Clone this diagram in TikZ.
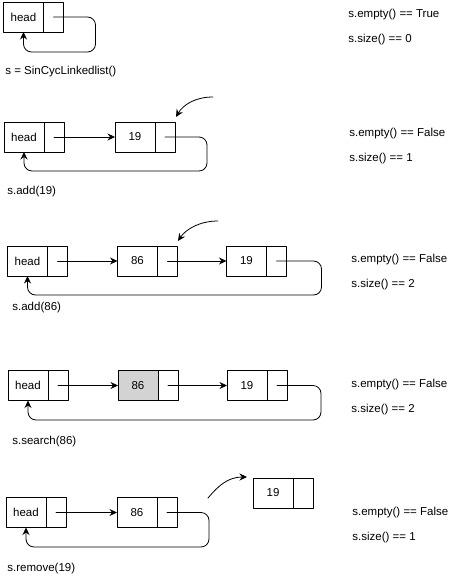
\documentclass[tikz,border=0pt]{standalone}
\usepackage{fontspec}
\setmainfont{Liberation Sans}
\usetikzlibrary{positioning,arrows.meta}
\definecolor{hit}{RGB}{211,211,211}
\begin{document}
\begin{tikzpicture}[x=1pt, y=-1pt, line cap=round, line join=round, font=\fontsize{11.5}{13}\selectfont, >={Stealth[length=7.5pt,width=7pt,inset=2.5pt]}, line width=0.8pt]
	\tikzset{cell/.style={draw, minimum width=40pt, minimum height=30pt, inner sep=0pt, outer sep=0pt},
		ptr/.style={draw, minimum width=20pt, minimum height=30pt, inner sep=0pt, outer sep=0pt, right=0pt of #1},
		link/.style={->, rounded corners=8pt},
		lbl/.style={anchor=west, inner sep=0pt}}
	\useasboundingbox (0,0) rectangle (453,579);
	% s = SinCycLinkedlist()
	\node[cell] (h1) at (23.5,17) {head};
	\node[ptr=h1] (h1p) {};
	\draw[link] (h1p.center) -- ++(42,0) -- ++(0,35) -| (h1.south);
	\node[lbl] (l1) at (5,72) {s = SinCycLinkedlist()};
	\node[lbl] (e1) at (348,15) {s.empty() == True};
	\node[lbl] (z1) at (348,40) {s.size() == 0};
	% s.add(19)
	\node[cell] (h2) at (24,137) {head};
	\node[ptr=h2] (h2p) {};
	\node[cell, right=51pt of h2p] (n2a) {19};
	\node[ptr=n2a] (n2ap) {};
	\draw[->] (h2p.center) -- (n2a);
	\draw[link] (n2ap.center) -- ++(42,0) -- ++(0,34) -| (h2.south);
	\coordinate (in2) at (213,97);
	\coordinate (at2) at (176,117);
	\draw[->] (in2) .. controls (195,97) and (183,105) .. (at2);
	\node[lbl] (l2) at (7,192) {s.add(19)};
	\node[lbl] (e2) at (349,134) {s.empty() == False};
	\node[lbl] (z2) at (349,159) {s.size() == 1};
	% s.add(86)
	\node[cell] (h3) at (27.5,261) {head};
	\node[ptr=h3] (h3p) {};
	\node[cell, right=50pt of h3p] (n3a) {86};
	\node[ptr=n3a] (n3ap) {};
	\node[cell, right=49pt of n3ap] (n3b) {19};
	\node[ptr=n3b] (n3bp) {};
	\draw[->] (h3p.center) -- (n3a);
	\draw[->] (n3ap.center) -- (n3b);
	\draw[link] (n3bp.center) -- ++(45,0) -- ++(0,34) -| (h3.south);
	\coordinate (in3) at (218,221);
	\coordinate (at3) at (178,241);
	\draw[->] (in3) .. controls (200,221) and (186,229) .. (at3);
	\node[lbl] (l3) at (12,308) {s.add(86)};
	\node[lbl] (e3) at (351,260) {s.empty() == False};
	\node[lbl] (z3) at (351,285) {s.size() == 2};
	% s.search(86)
	\node[cell] (h4) at (28,385.5) {head};
	\node[ptr=h4] (h4p) {};
	\node[cell, fill=hit, right=50pt of h4p] (n4a) {86};
	\node[ptr=n4a] (n4ap) {};
	\node[cell, right=49pt of n4ap] (n4b) {19};
	\node[ptr=n4b] (n4bp) {};
	\draw[->] (h4p.center) -- (n4a);
	\draw[->] (n4ap.center) -- (n4b);
	\draw[link] (n4bp.center) -- ++(44,0) -- ++(0,34.5) -| (h4.south);
	\node[lbl] (l4) at (12,442) {s.search(86)};
	\node[lbl] (e4) at (351,385) {s.empty() == False};
	\node[lbl] (z4) at (351,410) {s.size() == 2};
	% s.remove(19)
	\node[cell] (h5) at (26,512.5) {head};
	\node[ptr=h5] (h5p) {};
	\node[cell, right=51pt of h5p] (n5a) {86};
	\node[ptr=n5a] (n5ap) {};
	\draw[->] (h5p.center) -- (n5a);
	\draw[link] (n5ap.center) -- ++(42,0) -- ++(0,34.5) -| (h5.south);
	\node[cell] (n5b) at (273,493) {19};
	\node[ptr=n5b] (n5bp) {};
	\coordinate (in5) at (208,498);
	\coordinate (at5) at (247,477);
	\draw[->] (in5) .. controls (218,486) and (228,477) .. (at5);
	\node[lbl] (l5) at (7,569) {s.remove(19)};
	\node[lbl] (e5) at (352,513) {s.empty() == False};
	\node[lbl] (z5) at (352,538) {s.size() == 1};
\end{tikzpicture}
\end{document}
